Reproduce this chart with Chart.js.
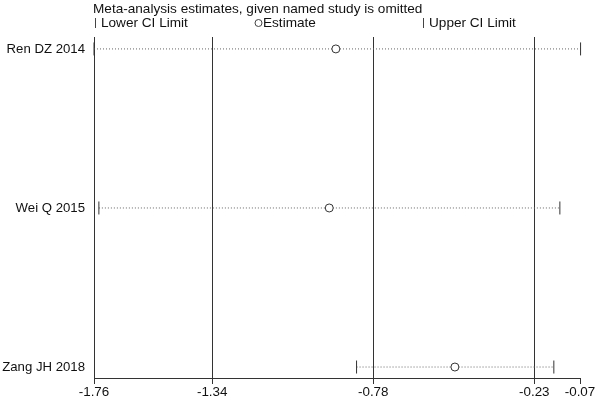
<!DOCTYPE html>
<html>
<head>
<meta charset="utf-8">
<script src="https://cdn.jsdelivr.net/npm/chart.js@4/dist/chart.umd.min.js"></script>
<style>
html,body{margin:0;padding:0;background:#fff;}
#wrap{width:599px;height:398px;position:relative;}
</style>
</head>
<body>
<div id="wrap"><canvas id="c" width="599" height="398"></canvas></div>
<script>
const studies = ['Ren DZ 2014', 'Wei Q 2015', 'Zang JH 2018'];
const lowerCI = [-1.76, -1.743, -0.847];
const estimate = [-0.919, -0.942, -0.505];
const upperCI = [-0.068, -0.140, -0.161];
const tickValues = [-1.76, -1.349, -0.789, -0.229, -0.07];
const tickLabels = ['-1.76', '-1.34', '-0.78', '-0.23', '-0.07'];
const titleText = 'Meta-analysis estimates, given named study is omitted';
const legendLabels = ['Lower CI Limit', 'Estimate', 'Upper CI Limit'];

const rowY = studies.map((s, i) => studies.length - i);
const FONT = '"Liberation Sans", Arial, sans-serif';

const datasets = [];
studies.forEach((s, i) => {
  datasets.push({
    type: 'line',
    label: s,
    data: [{x: lowerCI[i], y: rowY[i]}, {x: upperCI[i], y: rowY[i]}],
    borderColor: '#666',
    borderWidth: 1,
    borderDash: [1, 2],
    pointStyle: 'line',
    rotation: 90,
    pointRadius: 6.5,
    pointBorderColor: '#333',
    pointBorderWidth: 1,
    fill: false,
    clip: false,
    order: 2
  });
});
datasets.push({
  type: 'scatter',
  label: 'Estimate',
  data: studies.map((s, i) => ({x: estimate[i], y: rowY[i]})),
  pointStyle: 'circle',
  pointRadius: 4,
  pointBackgroundColor: '#fff',
  pointBorderColor: '#333',
  pointBorderWidth: 1,
  clip: false,
  order: 1
});

const headerPlugin = {
  id: 'header',
  afterDraw(chart) {
    const ctx = chart.ctx;
    const left = chart.chartArea.left;
    ctx.save();
    ctx.fillStyle = '#111';
    ctx.font = '13.6px ' + FONT;
    ctx.textBaseline = 'middle';
    ctx.textAlign = 'left';
    ctx.fillText(titleText, left - 1, 9);
    const ly = 23;
    ctx.strokeStyle = '#444';
    ctx.lineWidth = 1;
    ctx.beginPath(); ctx.moveTo(95.5, ly - 5); ctx.lineTo(95.5, ly + 5); ctx.stroke();
    ctx.fillText(legendLabels[0], 101, ly);
    ctx.beginPath(); ctx.arc(258.5, ly, 3.5, 0, Math.PI * 2); ctx.stroke();
    ctx.fillText(legendLabels[1], 263, ly);
    ctx.beginPath(); ctx.moveTo(423.5, ly - 5); ctx.lineTo(423.5, ly + 5); ctx.stroke();
    ctx.fillText(legendLabels[2], 429, ly);
    ctx.restore();
  }
};

new Chart(document.getElementById('c'), {
  data: { datasets },
  options: {
    responsive: false,
    animation: false,
    layout: { padding: { top: 37, right: 19, left: 0, bottom: 0 } },
    plugins: { legend: { display: false }, tooltip: { enabled: false }, title: { display: false } },
    scales: {
      x: {
        type: 'linear',
        min: tickValues[0],
        max: tickValues[tickValues.length - 1],
        afterBuildTicks(scale) { scale.ticks = tickValues.map(v => ({value: v})); },
        afterFit(scale) { scale.height = 20; },
        ticks: {
          callback: (v, i) => tickLabels[i],
          color: '#111',
          font: { family: FONT, size: 13.4 },
          padding: 0,
          maxRotation: 0,
          autoSkip: false
        },
        grid: {
          drawOnChartArea: true,
          color: ctx => (ctx.tick && (ctx.index === 0 || ctx.index === tickValues.length - 1)) ? 'rgba(0,0,0,0)' : '#333',
          tickColor: '#333',
          tickLength: 6,
          lineWidth: 1
        },
        border: { display: true, color: '#333', width: 1 }
      },
      y: {
        type: 'linear',
        min: 0.931,
        max: 3.075,
        afterBuildTicks(scale) { scale.ticks = rowY.map(v => ({value: v})); },
        afterFit(scale) { scale.width = 94; },
        ticks: {
          callback: (v) => { const i = rowY.indexOf(v); return i >= 0 ? studies[i] : ''; },
          color: '#111',
          font: { family: FONT, size: 13.2 },
          padding: 9,
          autoSkip: false
        },
        grid: { display: false, drawTicks: false },
        border: { display: true, color: '#333', width: 1 }
      }
    }
  },
  plugins: [headerPlugin]
});
</script>
</body>
</html>
